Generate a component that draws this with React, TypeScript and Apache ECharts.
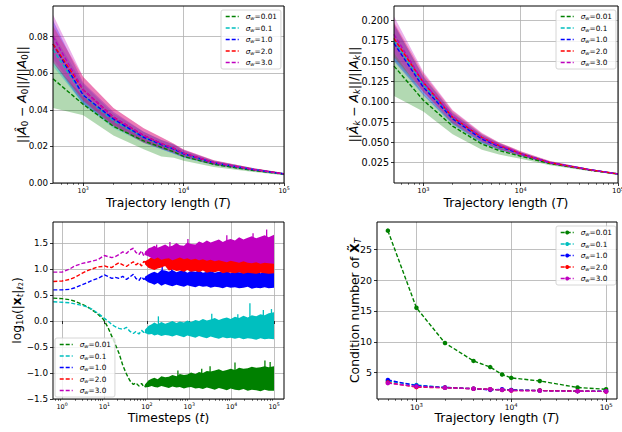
import React, { useEffect, useRef } from 'react';
import * as echarts from 'echarts';

const FONT = 'DejaVu Sans';
const SIGMAS = ['0.01', '0.1', '1.0', '2.0', '3.0'];
const COLORS = ['#008000', '#00bfbf', '#0000ff', '#ff0000', '#bf00bf'];

// ---------- Trajectory lengths (panels a, b, d) ----------
const T_LEN = [500, 1000, 2000, 4000, 6000, 8000, 10000, 20000, 50000, 100000];

// ---------- Panel a: ||Â0 - A0|| / ||A0|| ----------
const A0_MEAN_001 = [0.057, 0.043, 0.031, 0.023, 0.0195, 0.017, 0.0145, 0.0102, 0.0068, 0.0048];
const A0_LO_001 = [0.041, 0.037, 0.026, 0.0185, 0.0145, 0.0138, 0.0122, 0.0088, 0.006, 0.0043];
const A0_HI_001 = [0.066, 0.047, 0.036, 0.026, 0.022, 0.019, 0.0165, 0.0115, 0.0076, 0.0053];
const A0_MEAN_01 = [0.073, 0.048, 0.034, 0.025, 0.021, 0.0185, 0.0158, 0.011, 0.0073, 0.005];
const A0_LO_01 = [0.064, 0.043, 0.03, 0.022, 0.0185, 0.016, 0.014, 0.0098, 0.0066, 0.0045];
const A0_HI_01 = [0.082, 0.054, 0.038, 0.028, 0.0235, 0.021, 0.0176, 0.0122, 0.008, 0.0055];
const A0_MEAN_10 = [0.076, 0.048, 0.035, 0.025, 0.021, 0.0185, 0.016, 0.011, 0.0073, 0.005];
const A0_LO_10 = [0.066, 0.043, 0.031, 0.022, 0.0185, 0.016, 0.014, 0.0098, 0.0066, 0.0045];
const A0_HI_10 = [0.089, 0.055, 0.039, 0.028, 0.0235, 0.021, 0.018, 0.0122, 0.008, 0.0055];
const A0_MEAN_20 = [0.076, 0.051, 0.036, 0.026, 0.0215, 0.019, 0.0163, 0.0112, 0.0074, 0.005];
const A0_LO_20 = [0.066, 0.045, 0.031, 0.022, 0.019, 0.0165, 0.0145, 0.01, 0.0067, 0.0045];
const A0_HI_20 = [0.086, 0.058, 0.041, 0.03, 0.025, 0.0215, 0.0183, 0.0124, 0.0081, 0.0055];
const A0_MEAN_30 = [0.08, 0.051, 0.036, 0.026, 0.0215, 0.019, 0.0163, 0.0112, 0.0074, 0.005];
const A0_LO_30 = [0.068, 0.045, 0.032, 0.023, 0.019, 0.0165, 0.0145, 0.01, 0.0067, 0.0045];
const A0_HI_30 = [0.092, 0.058, 0.041, 0.03, 0.025, 0.0215, 0.0183, 0.0124, 0.0081, 0.0055];
const A0_YTICKS = [0, 0.02, 0.04, 0.06, 0.08];

// ---------- Panel b: ||Âk - Ak|| / ||Ak|| ----------
const AK_MEAN_001 = [0.144, 0.102, 0.07, 0.048, 0.04, 0.036, 0.033, 0.024, 0.016, 0.011];
const AK_LO_001 = [0.107, 0.088, 0.06, 0.041, 0.035, 0.032, 0.03, 0.022, 0.0148, 0.0102];
const AK_HI_001 = [0.16, 0.11, 0.075, 0.051, 0.043, 0.038, 0.035, 0.0255, 0.0168, 0.0115];
const AK_MEAN_01 = [0.175, 0.121, 0.08, 0.055, 0.045, 0.04, 0.036, 0.025, 0.0165, 0.0112];
const AK_LO_01 = [0.152, 0.11, 0.073, 0.05, 0.041, 0.037, 0.034, 0.0235, 0.0155, 0.0105];
const AK_HI_01 = [0.195, 0.132, 0.087, 0.06, 0.049, 0.043, 0.038, 0.0265, 0.0175, 0.0118];
const AK_MEAN_10 = [0.172, 0.118, 0.079, 0.054, 0.045, 0.04, 0.036, 0.025, 0.0165, 0.0112];
const AK_LO_10 = [0.15, 0.108, 0.072, 0.049, 0.041, 0.037, 0.033, 0.0235, 0.0155, 0.0105];
const AK_HI_10 = [0.196, 0.131, 0.086, 0.059, 0.049, 0.043, 0.038, 0.0265, 0.0175, 0.0118];
const AK_MEAN_20 = [0.178, 0.124, 0.081, 0.056, 0.046, 0.041, 0.036, 0.025, 0.0165, 0.0112];
const AK_LO_20 = [0.155, 0.112, 0.074, 0.051, 0.042, 0.037, 0.034, 0.0235, 0.0155, 0.0105];
const AK_HI_20 = [0.198, 0.135, 0.089, 0.061, 0.05, 0.044, 0.039, 0.027, 0.0175, 0.0118];
const AK_MEAN_30 = [0.183, 0.124, 0.082, 0.056, 0.046, 0.041, 0.036, 0.025, 0.0165, 0.0112];
const AK_LO_30 = [0.16, 0.112, 0.075, 0.051, 0.042, 0.037, 0.034, 0.0235, 0.0155, 0.0105];
const AK_HI_30 = [0.205, 0.137, 0.09, 0.062, 0.05, 0.044, 0.039, 0.027, 0.0175, 0.0118];
const AK_YTICKS = [0.025, 0.05, 0.075, 0.1, 0.125, 0.15, 0.175, 0.2];

// ---------- Panel c: log10(|x_t|) over timesteps ----------
const TS_T_EARLY = [0.62, 1, 1.5, 2, 3, 4, 5, 7, 9, 10, 12, 15, 18, 22, 27, 33, 40, 48, 55, 65, 75, 85, 100];
const TS_EARLY_001 = [0.44, 0.43, 0.41, 0.38, 0.32, 0.27, 0.22, 0.13, 0.05, 0.0, -0.12, -0.3, -0.45, -0.62, -0.85, -1.02, -1.15, -1.22, -1.19, -1.25, -1.2, -1.27, -1.23];
const TS_EARLY_01 = [0.37, 0.36, 0.35, 0.33, 0.3, 0.27, 0.23, 0.15, 0.08, 0.05, 0.0, -0.07, -0.11, -0.14, -0.16, -0.12, -0.2, -0.24, -0.2, -0.25, -0.18, -0.22, -0.18];
const TS_EARLY_10 = [0.6, 0.6, 0.61, 0.64, 0.7, 0.74, 0.78, 0.82, 0.87, 0.89, 0.86, 0.82, 0.84, 0.82, 0.86, 0.8, 0.85, 0.9, 0.82, 0.78, 0.85, 0.8, 0.84];
const TS_EARLY_20 = [0.76, 0.77, 0.8, 0.84, 0.92, 0.97, 1.0, 1.04, 1.05, 1.06, 1.04, 1.03, 1.08, 1.12, 1.08, 1.05, 1.1, 1.14, 1.08, 1.12, 1.06, 1.15, 1.1];
const TS_EARLY_30 = [0.94, 0.94, 1.0, 1.06, 1.11, 1.13, 1.15, 1.18, 1.24, 1.26, 1.24, 1.22, 1.24, 1.28, 1.33, 1.3, 1.37, 1.4, 1.32, 1.28, 1.35, 1.25, 1.35];

const TS_T_NOISE = [90, 110, 130, 150, 180, 220, 270, 330, 400, 500, 600, 750, 900, 1100, 1400, 1700, 2100, 2600, 3200, 4000, 5000, 6200, 7700, 9500, 12000, 15000, 19000, 24000, 30000, 38000, 48000, 60000, 75000, 100000];
const TS_HI_001 = [-1.22, -1.14, -1.11, -1.09, -1.12, -1.06, -1.08, -1.07, -1.04, -1.06, -1.02, -1.04, -1.03, -0.99, -1.02, -0.98, -1.0, -0.96, -0.97, -0.95, -0.93, -0.96, -0.94, -0.92, -0.94, -0.9, -0.92, -0.91, -0.88, -0.9, -0.89, -0.87, -0.89, -0.87];
const TS_LO_001 = [-1.28, -1.27, -1.25, -1.27, -1.28, -1.25, -1.27, -1.29, -1.26, -1.28, -1.27, -1.3, -1.28, -1.27, -1.3, -1.29, -1.31, -1.28, -1.3, -1.32, -1.29, -1.31, -1.33, -1.3, -1.32, -1.33, -1.31, -1.34, -1.32, -1.33, -1.35, -1.32, -1.34, -1.34];
const TS_HI_01 = [-0.17, -0.09, -0.06, -0.03, -0.06, -0.02, -0.05, -0.03, 0.0, -0.04, -0.01, -0.03, 0.01, -0.02, 0.02, 0.0, 0.04, 0.01, 0.03, 0.06, 0.02, 0.05, 0.07, 0.04, 0.08, 0.06, 0.1, 0.07, 0.11, 0.09, 0.13, 0.11, 0.15, 0.17];
const TS_LO_01 = [-0.23, -0.26, -0.25, -0.28, -0.26, -0.29, -0.27, -0.28, -0.3, -0.27, -0.29, -0.31, -0.28, -0.3, -0.32, -0.29, -0.31, -0.33, -0.3, -0.32, -0.34, -0.31, -0.33, -0.32, -0.34, -0.32, -0.35, -0.33, -0.34, -0.36, -0.33, -0.35, -0.34, -0.35];
const TS_HI_10 = [0.85, 0.9, 0.93, 0.95, 0.92, 0.98, 0.97, 0.95, 0.98, 0.94, 0.96, 0.97, 0.93, 0.96, 0.95, 0.97, 0.93, 0.95, 0.96, 0.93, 0.95, 0.94, 0.96, 0.92, 0.95, 0.94, 0.93, 0.96, 0.93, 0.95, 0.92, 0.95, 0.94, 0.94];
const TS_LO_10 = [0.79, 0.74, 0.72, 0.7, 0.73, 0.68, 0.71, 0.69, 0.67, 0.7, 0.68, 0.66, 0.69, 0.67, 0.65, 0.68, 0.66, 0.67, 0.64, 0.66, 0.65, 0.63, 0.66, 0.64, 0.65, 0.63, 0.64, 0.66, 0.62, 0.64, 0.63, 0.65, 0.63, 0.64];
const TS_HI_20 = [1.15, 1.19, 1.23, 1.21, 1.25, 1.22, 1.26, 1.24, 1.27, 1.23, 1.25, 1.26, 1.22, 1.25, 1.24, 1.26, 1.23, 1.25, 1.22, 1.26, 1.24, 1.22, 1.25, 1.23, 1.24, 1.22, 1.25, 1.23, 1.24, 1.22, 1.25, 1.26, 1.23, 1.24];
const TS_LO_20 = [1.09, 1.02, 1.0, 0.98, 1.01, 1.03, 1.06, 0.97, 0.99, 0.96, 0.97, 0.95, 0.98, 0.95, 0.96, 0.94, 0.97, 0.93, 0.95, 0.94, 0.96, 0.92, 0.94, 0.93, 0.92, 0.94, 0.91, 0.93, 0.92, 0.91, 0.93, 0.92, 0.91, 0.92];
const TS_HI_30 = [1.33, 1.4, 1.42, 1.45, 1.41, 1.44, 1.47, 1.43, 1.45, 1.5, 1.46, 1.45, 1.51, 1.48, 1.47, 1.53, 1.5, 1.55, 1.51, 1.54, 1.57, 1.52, 1.56, 1.58, 1.55, 1.61, 1.57, 1.6, 1.63, 1.59, 1.62, 1.65, 1.61, 1.66];
const TS_LO_30 = [1.27, 1.24, 1.21, 1.19, 1.22, 1.18, 1.2, 1.21, 1.17, 1.2, 1.22, 1.19, 1.21, 1.18, 1.2, 1.17, 1.19, 1.16, 1.18, 1.15, 1.17, 1.15, 1.13, 1.16, 1.14, 1.12, 1.15, 1.12, 1.11, 1.13, 1.1, 1.12, 1.11, 1.1];
// isolated spikes: [t, from, to]
const TS_SPK_001 = [[540, -1.1, -0.95], [1970, -1.05, -0.92], [3100, -1.0, -0.87], [12000, -0.95, -0.8], [61000, -0.9, -0.76], [81000, -0.9, -0.79]];
const TS_SPK_01 = [[187, -0.1, 0.09], [3400, 0.0, 0.14], [14000, 0.0, 0.13], [27000, 0.05, 0.34], [56000, 0.1, 0.21], [87000, 0.1, 0.23]];
const TS_SPK_10 = [[230, 0.9, 1.11], [385, 0.9, 1.07]];
const TS_SPK_20 = [[68000, 1.2, 1.3]];
const TS_SPK_30 = [[170, 1.4, 1.47], [350, 1.4, 1.52], [930, 1.45, 1.58], [7700, 1.5, 1.65], [32000, 1.55, 1.69], [67000, 1.6, 1.76]];
const TS_YTICKS = [-1.5, -1.0, -0.5, 0.0, 0.5, 1.0, 1.5];
const TS_XTICKS = [1, 10, 100, 1000, 10000, 100000];

// ---------- Panel d: condition number ----------
const CN_001 = [28.0, 15.5, 9.8, 6.9, 5.9, 4.7, 4.15, 3.65, 2.6, 2.3];
const CN_01 = [3.6, 3.0, 2.6, 2.4, 2.3, 2.2, 2.2, 2.1, 2.0, 2.0];
const CN_10 = [3.8, 2.9, 2.6, 2.4, 2.2, 2.3, 2.2, 2.1, 2.0, 2.0];
const CN_20 = [3.4, 2.65, 2.55, 2.4, 2.3, 2.2, 2.1, 2.1, 2.0, 1.95];
const CN_30 = [3.3, 2.75, 2.55, 2.4, 2.3, 2.2, 2.1, 2.05, 2.0, 1.95];
const CN_YTICKS = [5, 10, 15, 20, 25];
const LEN_XTICKS = [1000, 10000, 100000];

// groups
const A0_MEAN = [A0_MEAN_001, A0_MEAN_01, A0_MEAN_10, A0_MEAN_20, A0_MEAN_30];
const A0_LO = [A0_LO_001, A0_LO_01, A0_LO_10, A0_LO_20, A0_LO_30];
const A0_HI = [A0_HI_001, A0_HI_01, A0_HI_10, A0_HI_20, A0_HI_30];
const AK_MEAN = [AK_MEAN_001, AK_MEAN_01, AK_MEAN_10, AK_MEAN_20, AK_MEAN_30];
const AK_LO = [AK_LO_001, AK_LO_01, AK_LO_10, AK_LO_20, AK_LO_30];
const AK_HI = [AK_HI_001, AK_HI_01, AK_HI_10, AK_HI_20, AK_HI_30];
const TS_EARLY = [TS_EARLY_001, TS_EARLY_01, TS_EARLY_10, TS_EARLY_20, TS_EARLY_30];
const TS_HI = [TS_HI_001, TS_HI_01, TS_HI_10, TS_HI_20, TS_HI_30];
const TS_LO = [TS_LO_001, TS_LO_01, TS_LO_10, TS_LO_20, TS_LO_30];
const TS_SPK = [TS_SPK_001, TS_SPK_01, TS_SPK_10, TS_SPK_20, TS_SPK_30];
const CN = [CN_001, CN_01, CN_10, CN_20, CN_30];

const GRIDS = [
  { left: 53, top: 6, width: 231, height: 177 },
  { left: 394, top: 6, width: 224, height: 177 },
  { left: 53, top: 222, width: 231, height: 177 },
  { left: 377, top: 222, width: 240, height: 177 },
];
const X_RANGES = [
  [500, 100000],
  [500, 100000],
  [0.61, 172000],
  [384, 130300],
];

function rgba(hex: string, a: number) {
  const n = parseInt(hex.slice(1), 16);
  return `rgba(${(n >> 16) & 255},${(n >> 8) & 255},${n & 255},${a})`;
}

function minorTicks(min: number, max: number) {
  const out: number[] = [];
  for (let d = Math.floor(Math.log10(min)); d <= Math.ceil(Math.log10(max)); d++) {
    for (let k = 2; k <= 9; k++) {
      const v = k * Math.pow(10, d);
      if (v > min && v < max) out.push(v);
    }
  }
  return out;
}

function logLabel(v: number) {
  const l = Math.log10(v);
  const n = Math.round(l);
  if (Math.abs(l - n) > 1e-6) return '';
  return `{b|10}{e|${n}}`;
}

const TICK_LINE = { color: '#000', width: 0.8 };
const GRID_LINE = { color: '#b0b0b0', width: 0.8 };

function nameStyle() {
  return {
    fontFamily: FONT,
    fontSize: 12.3,
    color: '#000',
    lineHeight: 15,
    rich: {
      i: { fontFamily: FONT, fontSize: 12.3, fontStyle: 'italic', color: '#000', lineHeight: 15 },
      sb: { fontFamily: FONT, fontSize: 8.6, color: '#000', verticalAlign: 'bottom', lineHeight: 9 },
      sbi: { fontFamily: FONT, fontSize: 8.6, fontStyle: 'italic', color: '#000', verticalAlign: 'bottom', lineHeight: 9 },
      ssb: { fontFamily: FONT, fontSize: 6.5, color: '#000', verticalAlign: 'bottom', lineHeight: 6 },
      bx: { fontFamily: FONT, fontSize: 12.3, fontWeight: 'bold', color: '#000', lineHeight: 15 },
    },
  };
}

function xMajor(gi: number, ticks: number[], base: number, exp: number, name: string, nameGap: number) {
  const [min, max] = X_RANGES[gi];
  return {
    type: 'log',
    logBase: 10,
    gridIndex: gi,
    min,
    max,
    position: 'bottom',
    axisLine: { show: false },
    axisTick: { show: true, inside: false, length: 3, customValues: ticks, lineStyle: TICK_LINE },
    axisLabel: {
      show: true,
      customValues: ticks,
      margin: 3,
      formatter: logLabel,
      color: '#000',
      fontFamily: FONT,
      fontSize: base,
      rich: {
        b: { fontFamily: FONT, fontSize: base, color: '#000', lineHeight: base + 3 },
        e: { fontFamily: FONT, fontSize: exp, color: '#000', verticalAlign: 'top', lineHeight: exp + 1 },
      },
    },
    splitLine: { show: true, lineStyle: GRID_LINE },
    minorTick: { show: false },
    minorSplitLine: { show: false },
    name,
    nameLocation: 'middle',
    nameGap,
    nameMoveOverlap: false,
    nameTextStyle: nameStyle(),
  };
}

function xMinor(gi: number) {
  const [min, max] = X_RANGES[gi];
  return {
    type: 'log',
    logBase: 10,
    gridIndex: gi,
    min,
    max,
    position: 'bottom',
    axisLine: { show: false },
    axisTick: { show: true, inside: false, length: 1.8, customValues: minorTicks(min, max), lineStyle: { color: '#000', width: 0.6 } },
    axisLabel: { show: false },
    splitLine: { show: false },
  };
}

function yAxis(gi: number, min: number, max: number, interval: number | undefined, ticks: number[], fmt: (v: number) => string, fontSize: number, name: string, nameGap: number) {
  const ax: any = {
    type: 'value',
    gridIndex: gi,
    min,
    max,
    axisLine: { show: false },
    axisTick: { show: true, inside: false, length: 3, customValues: ticks, lineStyle: TICK_LINE },
    axisLabel: {
      show: true,
      customValues: ticks,
      margin: 5,
      color: '#000',
      fontFamily: FONT,
      fontSize,
      formatter: (v: number) => {
        const ok = ticks.some((t) => Math.abs(t - v) < 1e-9);
        return ok ? fmt(v) : '';
      },
    },
    splitLine: { show: true, lineStyle: GRID_LINE },
    name,
    nameLocation: 'middle',
    nameRotate: 90,
    nameGap,
    nameMoveOverlap: false,
    nameTextStyle: nameStyle(),
  };
  if (interval !== undefined) ax.interval = interval;
  return ax;
}

function bandSeries(name: string, gi: number, xs: number[], lo: number[], hi: number[], fill: string) {
  return {
    type: 'custom',
    name,
    coordinateSystem: 'cartesian2d',
    xAxisIndex: gi,
    yAxisIndex: gi,
    silent: true,
    data: [[xs[0], lo[0]]],
    encode: { x: 0, y: 1 },
    z: 2,
    renderItem: (params: any, api: any) => {
      const pts: number[][] = [];
      for (let i = 0; i < xs.length; i++) pts.push(api.coord([xs[i], hi[i]]));
      for (let i = xs.length - 1; i >= 0; i--) pts.push(api.coord([xs[i], lo[i]]));
      return { type: 'polygon', shape: { points: pts }, style: { fill, stroke: null } };
    },
  };
}

function spikeSeries(name: string, gi: number, spikes: number[][], color: string) {
  return {
    type: 'custom',
    name,
    coordinateSystem: 'cartesian2d',
    xAxisIndex: gi,
    yAxisIndex: gi,
    silent: true,
    data: spikes,
    encode: { x: 0, y: [1, 2] },
    z: 2,
    renderItem: (params: any, api: any) => {
      const t = api.value(0);
      const p1 = api.coord([t, api.value(1)]);
      const p2 = api.coord([t, api.value(2)]);
      return { type: 'line', shape: { x1: p1[0], y1: p1[1], x2: p2[0], y2: p2[1] }, style: { stroke: color, lineWidth: 1.3 } };
    },
  };
}

function lineSeries(name: string, gi: number, xs: number[], ys: number[], color: string, withSymbol: boolean) {
  return {
    type: 'line',
    name,
    xAxisIndex: gi,
    yAxisIndex: gi,
    data: xs.map((x, i) => [x, ys[i]]),
    symbol: withSymbol ? 'circle' : 'none',
    symbolSize: 4.5,
    showSymbol: withSymbol,
    silent: true,
    z: 3,
    lineStyle: { color, width: 1.4, type: [4, 2] },
    itemStyle: { color },
  };
}

function legend(prefix: string, left: number, top: number, withSymbol: boolean) {
  return {
    show: true,
    orient: 'vertical',
    left,
    top,
    data: SIGMAS.map((s) => `${prefix}:${s}`),
    padding: [2.5, 4, 2.5, 4],
    itemGap: 3.5,
    itemWidth: 13,
    itemHeight: withSymbol ? 5 : 8,
    backgroundColor: 'rgba(255,255,255,0.8)',
    borderColor: '#cccccc',
    borderWidth: 0.8,
    borderRadius: 2,
    selectedMode: false,
    itemStyle: withSymbol ? {} : { opacity: 0 },
    lineStyle: { width: 1.4 },
    formatter: (name: string) => `{s|σ}{w|w}{v|=${name.split(':')[1]}}`,
    textStyle: {
      fontFamily: FONT,
      fontSize: 7.3,
      color: '#000',
      lineHeight: 8,
      padding: [0, 0, 0, 2],
      rich: {
        s: { fontFamily: FONT, fontSize: 7.3, fontStyle: 'italic', color: '#000', lineHeight: 8 },
        w: { fontFamily: FONT, fontSize: 5.2, fontStyle: 'italic', color: '#000', verticalAlign: 'bottom', lineHeight: 5 },
        v: { fontFamily: FONT, fontSize: 7.3, color: '#000', lineHeight: 8 },
      },
    },
  };
}

function buildOption() {
  const series: any[] = [];
  // Panel a
  A0_LO.forEach((lo, i) => series.push(bandSeries(`a0band${i}`, 0, T_LEN, lo, A0_HI[i], rgba(COLORS[i], 0.3))));
  A0_MEAN.forEach((m, i) => series.push(lineSeries(`a0:${SIGMAS[i]}`, 0, T_LEN, m, COLORS[i], false)));
  // Panel b
  AK_LO.forEach((lo, i) => series.push(bandSeries(`akband${i}`, 1, T_LEN, lo, AK_HI[i], rgba(COLORS[i], 0.3))));
  AK_MEAN.forEach((m, i) => series.push(lineSeries(`ak:${SIGMAS[i]}`, 1, T_LEN, m, COLORS[i], false)));
  // Panel c
  TS_EARLY.forEach((e, i) => {
    series.push(bandSeries(`tsband${i}`, 2, TS_T_NOISE, TS_LO[i], TS_HI[i], COLORS[i]));
    series.push(spikeSeries(`tsspk${i}`, 2, TS_SPK[i], COLORS[i]));
    series.push(lineSeries(`ts:${SIGMAS[i]}`, 2, TS_T_EARLY, e, COLORS[i], false));
  });
  // Panel d
  CN.forEach((c, i) => series.push(lineSeries(`cn:${SIGMAS[i]}`, 3, T_LEN, c, COLORS[i], true)));

  const lenName = 'Trajectory length ({i|T})';
  return {
    animation: false,
    backgroundColor: '#fff',
    grid: GRIDS.map((g) => ({ ...g, show: false, containLabel: false, outerBoundsMode: 'none' })),
    xAxis: [
      xMajor(0, LEN_XTICKS, 6.5, 4.7, lenName, 12),
      xMajor(1, LEN_XTICKS, 7, 5, lenName, 12),
      xMajor(2, TS_XTICKS, 6.5, 4.7, 'Timesteps ({i|t})', 11),
      xMajor(3, LEN_XTICKS, 7.5, 5.3, lenName, 11),
      xMinor(0),
      xMinor(1),
      xMinor(2),
      xMinor(3),
    ],
    yAxis: [
      yAxis(0, 0, 0.0968, 0.02, A0_YTICKS, (v) => v.toFixed(2), 8.7, '||{i|Â}{sb|0} − {i|A}{sb|0}||/||{i|A}{sb|0}||', 24),
      yAxis(1, 0, 0.218, 0.025, AK_YTICKS, (v) => v.toFixed(3), 9.6, '||{i|Â}{sbi|k} − {i|A}{sbi|k}||/||{i|A}{sbi|k}||', 33),
      yAxis(2, -1.5, 1.905, 0.5, TS_YTICKS, (v) => v.toFixed(1).replace('-', '\u2212'), 8.8, 'log{sb|10}(|{bx|x}{sbi|t}|{sbi|ℓ}{ssb|2})', 29),
      yAxis(3, 0.73, 29.4, undefined, CN_YTICKS, (v) => String(v), 9.5, 'Condition number of {bx|X\u0303}{sbi|T}', 15),
    ],
    legend: [
      legend('a0', 221, 10, false),
      legend('ak', 556, 10, false),
      legend('ts', 55, 338, false),
      legend('cn', 556, 226, true),
    ],
    graphic: GRIDS.map((g) => ({
      type: 'rect',
      silent: true,
      z: 100,
      shape: { x: g.left, y: g.top, width: g.width, height: g.height },
      style: { fill: 'none', stroke: '#000', lineWidth: 1 },
    })),
    series,
  };
}

export default function App() {
  const ref = useRef<HTMLDivElement>(null);
  useEffect(() => {
    if (!ref.current) return;
    const chart = echarts.init(ref.current, undefined, { renderer: 'svg' });
    chart.setOption(buildOption() as any);
    return () => chart.dispose();
  }, []);
  return <div ref={ref} style={{ position: 'absolute', left: 0, top: 0, width: 622, height: 432 }} />;
}
